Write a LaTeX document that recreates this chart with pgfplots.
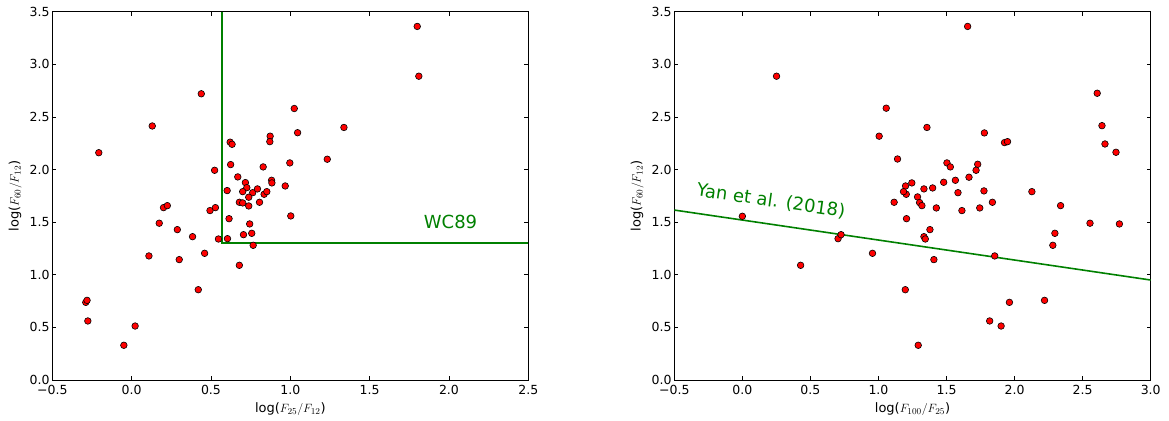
\documentclass[border=0pt]{standalone}
\usepackage{fontspec}
\setmainfont{DejaVu Sans}
\usepackage{pgfplots}
\usepackage{pgfplotstable}
\pgfplotsset{compat=1.18}

\definecolor{mplgreen}{rgb}{0,0.5,0}

% log(F25/F12) vs log(F60/F12)
\pgfplotstableread{
x y
-0.207 2.160
0.130 2.414
0.439 2.720
0.621 2.260
0.633 2.240
1.025 2.580
1.046 2.350
0.873 2.317
0.871 2.265
0.624 2.047
0.523 1.993
0.829 2.025
0.997 2.063
0.669 1.930
0.717 1.876
0.726 1.828
0.700 1.790
0.763 1.780
0.793 1.816
0.835 1.765
0.852 1.790
0.882 1.898
0.884 1.873
0.968 1.844
0.602 1.800
0.679 1.689
0.700 1.683
0.738 1.737
0.738 1.654
0.806 1.689
0.201 1.638
0.225 1.657
0.494 1.610
0.528 1.638
1.800 3.360
1.810 2.887
1.338 2.400
1.233 2.098
0.174 1.490
0.288 1.429
0.384 1.362
0.547 1.340
0.604 1.343
0.614 1.533
0.744 1.483
0.705 1.381
0.757 1.394
0.766 1.280
1.003 1.559
0.109 1.179
0.300 1.144
0.460 1.204
0.679 1.090
0.420 0.858
-0.289 0.738
-0.281 0.757
-0.276 0.561
0.022 0.513
-0.049 0.330
}\lefttab

% log(F100/F25) vs log(F60/F12)
\pgfplotstableread{
x y
0.251 2.887
1.057 2.583
1.005 2.317
1.140 2.100
1.245 1.873
1.199 1.844
1.204 1.765
1.184 1.790
1.287 1.740
1.115 1.689
1.655 3.360
2.607 2.725
1.356 2.400
2.642 2.417
1.778 2.348
1.926 2.256
1.948 2.265
2.664 2.243
2.745 2.164
1.503 2.063
1.528 2.025
1.729 2.050
1.717 1.993
1.665 1.927
1.565 1.898
1.479 1.879
1.334 1.816
1.398 1.825
1.584 1.780
1.775 1.797
2.127 1.790
1.302 1.686
1.319 1.657
1.425 1.635
1.837 1.689
2.338 1.657
1.613 1.610
1.744 1.635
0.000 1.556
0.703 1.343
0.725 1.381
0.428 1.090
0.956 1.204
1.206 1.533
1.197 0.858
1.292 0.330
1.378 1.429
1.334 1.362
1.344 1.340
1.407 1.144
1.854 1.179
2.554 1.490
2.770 1.483
2.296 1.394
2.281 1.280
1.962 0.738
2.220 0.757
1.817 0.561
1.901 0.513
}\righttab

\pgfplotsset{
  panel/.style={
    scale only axis,
    width=476pt, height=368.3pt,
    ymin=0, ymax=3.5,
    ytick={0,0.5,1,1.5,2,2.5,3,3.5},
    yticklabels={0.0,0.5,1.0,1.5,2.0,2.5,3.0,3.5},
    tick align=inside,
    major tick length=4pt,
    minor tick num=0,
    axis line style={line width=0.9pt},
    every tick/.style={black, line width=0.8pt},
    ticklabel style={font=\fontsize{12.5}{15}\selectfont, inner sep=0.5pt},
    yticklabel style={xshift=-2pt},
    xticklabel style={yshift=-4.6pt},
    every axis x label/.style={at={(axis description cs:0.5,0)}, yshift=-29pt,
      anchor=center, font=\fontsize{13}{15}\selectfont},
    every axis y label/.style={at={(axis description cs:0,0.5)}, xshift=-37pt,
      rotate=90, anchor=center, font=\fontsize{13}{15}\selectfont},
    ylabel={log(\(F_{60}/F_{12}\))},
  },
  dots/.style={only marks, mark=*, mark size=3.3pt,
    mark options={fill=red, draw=black, line width=0.6pt}},
}

\begin{document}
\begin{tikzpicture}
\path[use as bounding box] (0,0) rectangle (1169pt,420pt);

\begin{axis}[panel,
  at={(52.3pt,40pt)}, anchor=south west,
  xmin=-0.5, xmax=2.5,
  xtick={-0.5,0,0.5,1,1.5,2,2.5},
  xticklabels={−0.5,0.0,0.5,1.0,1.5,2.0,2.5},
  xlabel={log(\(F_{25}/F_{12}\))},
]
\addplot[mplgreen, line width=1.6pt] coordinates {(0.57,3.5) (0.57,1.3) (2.5,1.3)};
\addplot[dots] table[x=x, y=y] {\lefttab};
\node[text=mplgreen, font=\fontsize{18}{21}\selectfont] at (axis cs:2.01,1.5) {WC89};
\end{axis}

\begin{axis}[panel,
  at={(674.3pt,40pt)}, anchor=south west,
  width=476.4pt,
  xmin=-0.5, xmax=3.0,
  xtick={-0.5,0,0.5,1,1.5,2,2.5,3},
  xticklabels={−0.5,0.0,0.5,1.0,1.5,2.0,2.5,3.0},
  xlabel={log(\(F_{100}/F_{25}\))},
]
\addplot[mplgreen, line width=1.6pt] coordinates {(-0.5,1.615) (3.0,0.950)};
\addplot[dots] table[x=x, y=y] {\righttab};
\node[text=mplgreen, font=\fontsize{18}{21}\selectfont, rotate=-8.3] at (axis cs:0.21,1.70) {Yan et al. (2018)};
\end{axis}
\end{tikzpicture}
\end{document}
